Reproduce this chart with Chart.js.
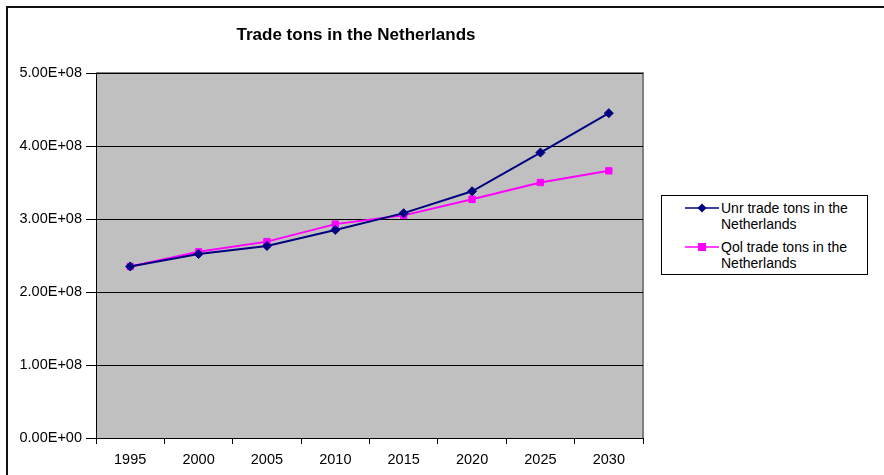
<!DOCTYPE html>
<html>
<head>
<meta charset="utf-8">
<script src="https://cdn.jsdelivr.net/npm/chart.js@4.4.1/dist/chart.umd.min.js"></script>
<style>
  html, body { margin: 0; padding: 0; background: #fff; overflow: hidden; }
  #wrap { position: relative; width: 884px; height: 475px; }
  #frame { position: absolute; left: 6px; top: 6px; width: 1000px; height: 1000px;
           border-left: 2px solid #111; border-top: 2px solid #111; }
  #c { position: absolute; left: 0; top: 0; }
  #legend { position: absolute; left: 661px; top: 195px; width: 207px; height: 80px;
            border: 1px solid #000; background: #fff; font-family: Arial, "Liberation Sans", sans-serif;
            font-size: 14px; color: #000; box-sizing: border-box; padding-top: 4px; }
  .item { display: flex; align-items: flex-start; margin-bottom: 7px; }
  .item svg { flex: none; margin-left: 23px; margin-top: 1px; }
  .item span { line-height: 16px; margin-left: 2px; }
</style>
</head>
<body>
<div id="wrap">
  <div id="frame"></div>
  <canvas id="c" width="884" height="475"></canvas>
  <div id="legend"></div>
</div>
<script>
const titleText = "Trade tons in the Netherlands";
const years = ["1995", "2000", "2005", "2010", "2015", "2020", "2025", "2030"];
const unrLabel = "Unr trade tons in the Netherlands";
const qolLabel = "Qol trade tons in the Netherlands";
const unrValues = [2.35e8, 2.52e8, 2.63e8, 2.85e8, 3.08e8, 3.38e8, 3.91e8, 4.45e8];
const qolValues = [2.35e8, 2.55e8, 2.69e8, 2.93e8, 3.05e8, 3.27e8, 3.50e8, 3.66e8];
const yTicks = [0, 1e8, 2e8, 3e8, 4e8, 5e8];

const FONT = 'Arial, "Liberation Sans", sans-serif';

function sci(v) {
  if (v === 0) return "0.00E+00";
  const e = Math.floor(Math.log10(Math.abs(v)));
  const m = v / Math.pow(10, e);
  return m.toFixed(2) + "E+" + String(e).padStart(2, "0");
}

const series = [
  { label: unrLabel, data: unrValues, color: "#000080", style: "rectRot", radius: 4.5 },
  { label: qolLabel, data: qolValues, color: "#FF00FF", style: "rect", radius: 4.5 }
];

const plotBg = {
  id: "plotBg",
  beforeDraw(chart) {
    const { ctx, chartArea: a } = chart;
    ctx.save();
    ctx.fillStyle = "#C0C0C0";
    ctx.fillRect(a.left, a.top, a.right - a.left, a.bottom - a.top);
    ctx.strokeStyle = "#808080";
    ctx.lineWidth = 2;
    ctx.beginPath();
    ctx.moveTo(a.left, a.top);
    ctx.lineTo(a.right, a.top);
    ctx.lineTo(a.right, a.bottom);
    ctx.stroke();
    ctx.restore();
  },
  afterDraw(chart) {
    const { ctx } = chart;
    ctx.save();
    ctx.font = "bold 17px " + FONT;
    ctx.fillStyle = "#000";
    ctx.textAlign = "center";
    ctx.textBaseline = "middle";
    ctx.fillText(titleText, 356, 35);
    ctx.restore();
  }
};

new Chart(document.getElementById("c"), {
  type: "line",
  data: {
    labels: years,
    datasets: series.map(s => ({
      label: s.label,
      data: s.data,
      borderColor: s.color,
      backgroundColor: s.color,
      borderWidth: 2,
      pointStyle: s.style,
      pointRadius: s.radius,
      pointHoverRadius: s.radius,
      pointBorderWidth: 1,
      tension: 0,
      fill: false
    }))
  },
  options: {
    responsive: false,
    animation: false,
    devicePixelRatio: 1,
    layout: { padding: { top: 73, right: 241, bottom: 0, left: 0 } },
    plugins: { legend: { display: false }, title: { display: false }, tooltip: { enabled: false } },
    scales: {
      x: {
        offset: true,
        grid: { offset: true, drawOnChartArea: false, drawTicks: true, tickLength: 6, color: "#000" },
        border: { color: "#000", width: 1 },
        ticks: { color: "#000", font: { family: FONT, size: 14.5 }, padding: 7, maxRotation: 0, autoSkip: false },
        afterFit(scale) { scale.height = 37; }
      },
      y: {
        min: 0, max: 5e8,
        afterBuildTicks(scale) { scale.ticks = yTicks.map(v => ({ value: v })); },
        grid: { color: "#000", lineWidth: 1, tickLength: 10 },
        border: { color: "#000", width: 1 },
        ticks: { color: "#000", font: { family: FONT, size: 14.5 }, padding: 4, callback: v => sci(v) },
        afterFit(scale) { scale.width = 96; }
      }
    }
  },
  plugins: [plotBg]
});

// HTML legend built from the series definitions
const leg = document.getElementById("legend");
series.forEach(s => {
  const item = document.createElement("div");
  item.className = "item";
  const marker = s.style === "rect"
    ? '<rect x="13" y="3" width="8" height="8" fill="' + s.color + '"/>'
    : '<polygon points="17,2.5 21.5,7 17,11.5 12.5,7" fill="' + s.color + '"/>';
  item.innerHTML = '<svg width="34" height="14"><line x1="0" y1="7" x2="34" y2="7" stroke="' + s.color +
    '" stroke-width="1.5"/>' + marker + '</svg><span></span>';
  item.querySelector("span").textContent = s.label.replace(" Netherlands", "\u00a0Netherlands").replace("the\u00a0", "the ");
  leg.appendChild(item);
});
</script>
</body>
</html>
